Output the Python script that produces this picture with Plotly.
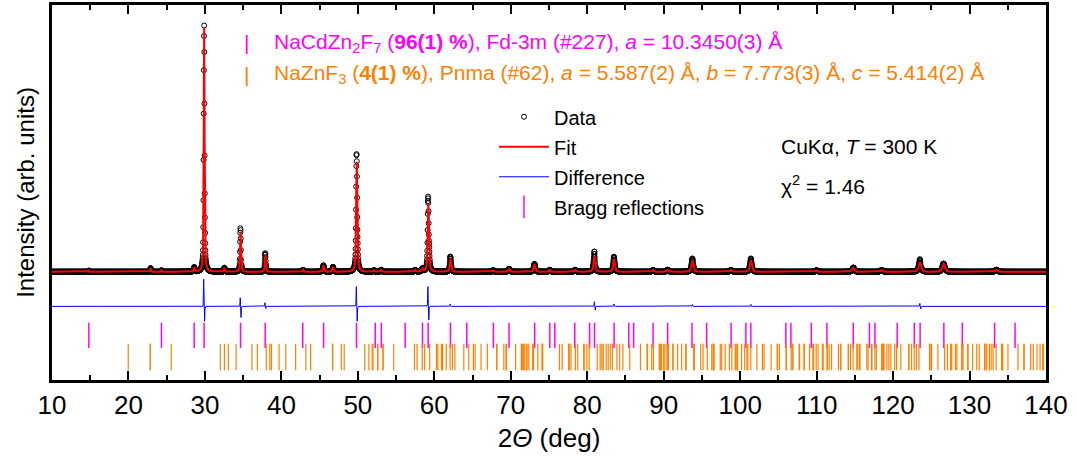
import numpy as np
import plotly.graph_objects as go

# ---------------- data ----------------
# Observed/fitted peak list (2theta in deg, height in % of strongest peak)
peak_pos = [14.82, 22.90, 24.32, 28.60, 29.90, 32.55, 34.66, 37.90, 42.83, 45.50,
            46.75, 49.85, 52.10, 53.05, 57.50, 58.45, 59.22, 62.11, 67.70, 69.80,
            73.10, 75.10, 78.40, 80.93, 83.50, 88.60, 90.50, 93.75, 98.80, 101.40,
            110.0, 114.80, 118.5, 123.50, 126.60, 133.50]
peak_height = [0.5, 1.5, 0.6, 1.8, 99.0, 1.6, 16.0, 6.8, 0.8, 2.6,
               2.0, 45.0, 0.6, 0.8, 0.7, 1.2, 27.5, 5.4, 0.6, 1.2,
               3.2, 0.8, 0.8, 6.3, 5.2, 0.7, 0.8, 4.6, 0.7, 4.6,
               0.6, 1.7, 0.7, 3.9, 3.3, 0.8]

# Residual features (obs - calc)
res_pos = [29.84, 29.96, 34.62, 34.72, 37.86, 37.95, 49.80, 49.92, 59.16, 59.28,
           62.08, 80.93, 81.05, 83.48, 93.75, 101.40, 123.50, 123.62]
res_amp = [11.0, -6.0, 3.5, -4.5, 1.5, -1.0, 8.0, -6.0, 8.0, -5.5,
           1.0, 2.0, -1.5, 1.0, 0.8, 0.8, 1.2, -1.0]

# Lattice parameters printed on the chart (used for the Bragg tick positions)
wavelength = 1.5406            # Cu K-alpha1
a_main = 10.3450               # NaCdZn2F7, Fd-3m
a_sec, b_sec, c_sec = 5.587, 7.773, 5.414   # NaZnF3, Pnma

diff_offset = -14.0
tick_level_main = -25.7
tick_level_sec = -34.5

# ---------------- profile ----------------
x = np.arange(10.0, 140.0001, 0.02)


def pv(xx, x0, fwhm, eta=0.6):
    dx = (xx - x0) / (fwhm / 2.0)
    return eta / (1.0 + dx ** 2) + (1.0 - eta) * np.exp(-np.log(2) * dx ** 2)


fit = np.zeros_like(x)
for p, h in zip(peak_pos, peak_height):
    w = 0.08 + 0.0024 * (p - 10.0)
    fit += h * pv(x, p, w)

resid = np.zeros_like(x)
for p, a in zip(res_pos, res_amp):
    resid += a * np.exp(-0.5 * ((x - p) / 0.03) ** 2)

data = fit + resid
diff = resid + diff_offset


def two_theta(d):
    s = wavelength / (2.0 * d)
    return 2.0 * np.degrees(np.arcsin(s)) if s < 1 else None


# Fd-3m reflections
main_N = set()
for h in range(0, 14):
    for k in range(0, h + 1):
        for l in range(0, k + 1):
            if h == 0:
                continue
            par = {h % 2, k % 2, l % 2}
            if len(par) != 1:
                continue
            idx = [h, k, l]
            if 0 in idx:
                nz = [i for i in idx if i != 0]
                if sum(nz) % 4 != 0:
                    continue
            main_N.add(h * h + k * k + l * l)
bragg_main = []
for N in sorted(main_N):
    t = two_theta(a_main / np.sqrt(N))
    if t is not None and 10 <= t <= 140:
        bragg_main.append(t)

# Pnma reflections
bragg_sec = set()
for h in range(0, 8):
    for k in range(0, 11):
        for l in range(0, 8):
            if h == k == l == 0:
                continue
            if h == 0 and (k + l) % 2:
                continue
            if l == 0 and h % 2:
                continue
            if k == 0 and l == 0 and h % 2:
                continue
            if h == 0 and l == 0 and k % 2:
                continue
            if h == 0 and k == 0 and l % 2:
                continue
            inv_d2 = (h / a_sec) ** 2 + (k / b_sec) ** 2 + (l / c_sec) ** 2
            t = two_theta(1.0 / np.sqrt(inv_d2))
            if t is not None and 10 <= t <= 140:
                bragg_sec.add(round(t, 3))
bragg_sec = sorted(bragg_sec)

# ---------------- figure ----------------
MAG = "#ff00ff"
ORA = "#ff8000"
FONT = "Arial, Liberation Sans, sans-serif"

fig = go.Figure()
fig.add_trace(go.Scatter(x=x, y=data, mode="markers", name="Data",
                         legendgroup="a",
                         marker=dict(symbol="circle-open", size=5, color="black",
                                     line=dict(width=1, color="black"))))
fig.add_trace(go.Scatter(x=x, y=fit, mode="lines", name="Fit", legendgroup="b",
                         line=dict(color="#ff0000", width=2)))
fig.add_trace(go.Scatter(x=x, y=diff, mode="lines", name="Difference", legendgroup="c",
                         line=dict(color="#0000ff", width=1)))
fig.add_trace(go.Scatter(x=bragg_main, y=[tick_level_main] * len(bragg_main),
                         mode="markers", name="Bragg reflections", legendgroup="d",
                         marker=dict(symbol="line-ns", size=18,
                                     line=dict(width=1.5, color=MAG))))
fig.add_trace(go.Scatter(x=bragg_sec, y=[tick_level_sec] * len(bragg_sec),
                         mode="markers", showlegend=False,
                         marker=dict(symbol="line-ns", size=19,
                                     line=dict(width=1.2, color=ORA))))

L, R, T, B = 52, 1046, 2, 380


def px(xp):
    return (xp - L) / (R - L)


def py(yp):
    return (B - yp) / (B - T)


ann = [
    dict(x=px(246), y=py(40), text="|", color=MAG, xanchor="center"),
    dict(x=px(272), y=py(40),
         text="NaCdZn<sub>2</sub>F<sub>7</sub> (<b>96(1) %</b>), Fd-3m (#227), <i>a</i> = 10.3450(3) Å",
         color=MAG, xanchor="left"),
    dict(x=px(246), y=py(72), text="|", color=ORA, xanchor="center"),
    dict(x=px(272), y=py(72),
         text="NaZnF<sub>3</sub> (<b>4(1) %</b>), Pnma (#62), <i>a</i> = 5.587(2) Å, "
              "<i>b</i> = 7.773(3) Å, <i>c</i> = 5.414(2) Å",
         color=ORA, xanchor="left"),
    dict(x=px(779), y=py(145), text="CuKα, <i>T</i> = 300 K", color="black", xanchor="left"),
    dict(x=px(779), y=py(183), text="χ<sup>2</sup> = 1.46", color="black", xanchor="left"),
]
for a in ann:
    fig.add_annotation(x=a["x"], y=a["y"], xref="paper", yref="paper", text=a["text"],
                       showarrow=False, xanchor=a["xanchor"], yanchor="middle",
                       font=dict(family=FONT, size=21, color=a["color"]))

fig.update_layout(
    width=1077, height=456,
    margin=dict(l=L, r=1077 - R, t=T, b=456 - B),
    paper_bgcolor="white", plot_bgcolor="white",
    font=dict(family=FONT, color="black"),
    showlegend=True,
    legend=dict(x=px(494), y=py(95), xanchor="left", yanchor="top",
                bgcolor="rgba(0,0,0,0)", font=dict(family=FONT, size=20),
                tracegroupgap=1, itemwidth=50),
    xaxis=dict(range=[10, 140], dtick=10, tick0=10, showgrid=False, zeroline=False,
               showline=True, linewidth=2.5, linecolor="black", mirror="allticks",
               ticks="inside", ticklen=9, tickwidth=2, tickcolor="black",
               minor=dict(dtick=5, ticks="inside", ticklen=5, tickwidth=2,
                          tickcolor="black", showgrid=False),
               tickfont=dict(family="Liberation Sans Narrow, Arial Narrow, " + FONT, size=26),
               title=dict(text="2<i>Θ</i> (deg)", standoff=10,
                          font=dict(family=FONT, size=26))),
    yaxis=dict(range=[-43.8, 108.0], showgrid=False, zeroline=False, showticklabels=False,
               ticks="", showline=True, linewidth=2.5, linecolor="black", mirror=True,
               title=dict(text="Intensity (arb. units)", standoff=8,
                          font=dict(family=FONT, size=24))),
)

fig.write_html("out.html")
